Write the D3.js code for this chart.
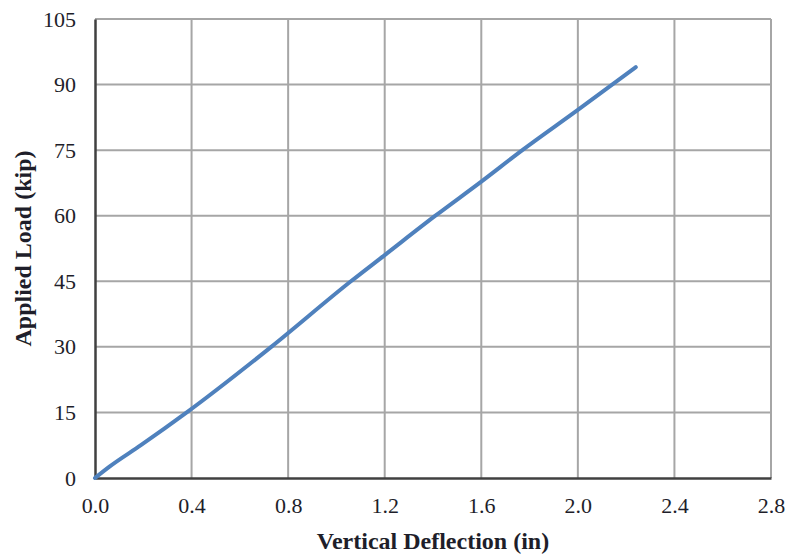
<!DOCTYPE html>
<html>
<head>
<meta charset="utf-8">
<script src="https://cdn.jsdelivr.net/npm/d3@7"></script>
<style>
body { margin: 0; background: #fff; }
text { font-family: "Liberation Serif", "Times New Roman", serif; fill: #1e1e2a; }
</style>
</head>
<body>
<script>
// values
var deflection = [0, 0.06, 0.19, 0.38, 0.73, 1.06, 1.20, 1.41, 1.60, 1.77, 2.00, 2.24]
var load = [0, 2.6, 7.5, 15, 30, 45, 51, 60, 67.8, 75, 84.2, 94]
var xTicks = [0, 0.4, 0.8, 1.2, 1.6, 2.0, 2.4, 2.8]
var yTicks = [0, 15, 30, 45, 60, 75, 90, 105]

var w = 788, h = 556
var margin = {left: 95, right: 17, top: 19, bottom: 78}

var svg = d3.select("body").append("svg")
.attr("width", w)
.attr("height", h)

var x = d3.scaleLinear().domain([0, 2.8]).range([margin.left, w - margin.right])
var y = d3.scaleLinear().domain([0, 105]).range([h - margin.bottom, margin.top])

// grid
svg.append("g")
.selectAll("line")
.data(xTicks.slice(1))
.enter().append("line")
.attr("x1", d => x(d)).attr("x2", d => x(d))
.attr("y1", y(0)).attr("y2", y(105))
.attr("stroke", "#a6a6a6")
.attr("stroke-width", 2)
svg.append("g")
.selectAll("line")
.data(yTicks.slice(1))
.enter().append("line")
.attr("x1", x(0)).attr("x2", x(2.8))
.attr("y1", d => y(d)).attr("y2", d => y(d))
.attr("stroke", "#a6a6a6")
.attr("stroke-width", 2)

// axes
var xAxis = svg.append("g")
.attr("transform", "translate(0," + y(0) + ")")
.call(d3.axisBottom(x).tickValues(xTicks).tickFormat(d3.format(".1f")).tickSize(0).tickPadding(19))
var yAxis = svg.append("g")
.attr("transform", "translate(" + x(0) + ",0)")
.call(d3.axisLeft(y).tickValues(yTicks).tickSize(0).tickPadding(19))
xAxis.select(".domain").attr("stroke", "#404040").attr("stroke-width", 2.5)
yAxis.select(".domain").attr("stroke", "#404040").attr("stroke-width", 2.5)
xAxis.selectAll("text").style("font-size", "22px").style("font-family", "Liberation Serif").attr("fill", "#1e1e2a")
yAxis.selectAll("text").style("font-size", "22px").style("font-family", "Liberation Serif").attr("fill", "#1e1e2a")

// data line
var line = d3.line()
.x((d, i) => x(deflection[i]))
.y(d => y(d))
.curve(d3.curveMonotoneX)
svg.append("path")
.datum(load)
.attr("d", line)
.attr("fill", "none")
.attr("stroke", "#4f81bd")
.attr("stroke-width", 4)
.attr("stroke-linecap", "round")

// titles
svg.append("text")
.attr("x", (x(0) + x(2.8)) / 2)
.attr("y", 549)
.attr("text-anchor", "middle")
.style("font-size", "24px")
.style("font-weight", "bold")
.text("Vertical Deflection (in)")
svg.append("text")
.attr("transform", "translate(31," + ((y(0) + y(105)) / 2) + "),rotate(-90)")
.attr("text-anchor", "middle")
.style("font-size", "24px")
.style("font-weight", "bold")
.text("Applied Load (kip)")
</script>
</body>
</html>
